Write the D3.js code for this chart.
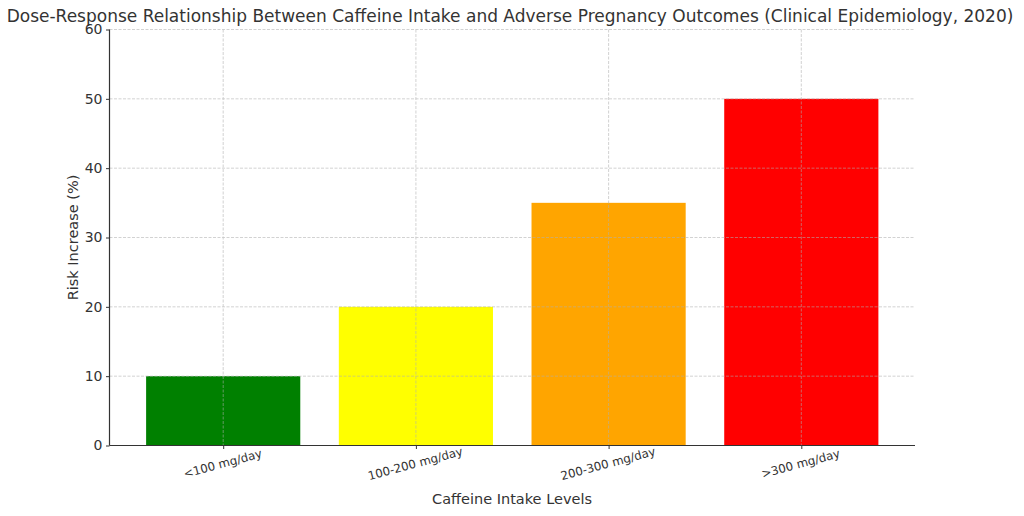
<!DOCTYPE html>
<html><head><meta charset="utf-8">
<script src="https://cdn.jsdelivr.net/npm/d3@7"></script>
<style>body{margin:0;background:#fff}text{font-family:"DejaVu Sans",sans-serif;fill:#333}</style>
</head><body><svg id="c" width="1024" height="516"></svg>
<script>
const categories = ["<100 mg/day", "100-200 mg/day", "200-300 mg/day", ">300 mg/day"];
const riskValues = [10, 20, 35, 50];
const barColors = ["green", "yellow", "orange", "red"];
const yTicks = [0, 10, 20, 30, 40, 50, 60];

const svg = d3.select("#c");
const L = 109.5, R = 915, T = 29.5, B = 445.5;
const x = d3.scaleLinear().domain([-0.59, categories.length - 1 + 0.59]).range([L, R]);
const y = d3.scaleLinear().domain([0, 60]).range([B, T]);
const unit = x(1) - x(0);

// bars
svg.append("g").selectAll("rect").data(riskValues).join("rect")
  .attr("x", (d, i) => x(i) - 0.4 * unit)
  .attr("width", 0.8 * unit)
  .attr("y", d => y(d))
  .attr("height", d => B - y(d))
  .attr("fill", (d, i) => barColors[i]);

// grid
const grid = svg.append("g").attr("stroke", "#b0b0b0").attr("stroke-width", 0.8)
  .attr("stroke-dasharray", "3,1.5").attr("opacity", 0.7);
grid.selectAll(".gy").data(yTicks).join("line")
  .attr("x1", L).attr("x2", R).attr("y1", d => y(d)).attr("y2", d => y(d));
grid.selectAll(".gx").data(categories).join("line")
  .attr("x1", (d, i) => x(i)).attr("x2", (d, i) => x(i)).attr("y1", T).attr("y2", B);

// y axis
const yAxis = d3.axisLeft(y).tickValues(yTicks).tickSize(3.5).tickPadding(3.5);
const gy = svg.append("g").attr("transform", `translate(${L},0)`).call(yAxis);
gy.select(".domain").attr("stroke", "#333").attr("stroke-width", 1.2).attr("d", `M0,${B}V${T}`);
gy.selectAll(".tick line").attr("stroke", "#333");
gy.selectAll("text").style("font-size", "14px").style("font-family", "DejaVu Sans").attr("fill", "#333");

// x axis
const xAxis = d3.axisBottom(x).tickValues(d3.range(categories.length)).tickFormat((d) => categories[d]).tickSize(3.5).tickPadding(0);
const gx = svg.append("g").attr("transform", `translate(0,${B})`).call(xAxis);
gx.select(".domain").attr("stroke", "#333").attr("stroke-width", 1.2).attr("d", `M${L},0H${R}`);
gx.selectAll(".tick line").attr("stroke", "#333");
gx.selectAll("text").style("font-size", "11.8px").style("font-family", "DejaVu Sans").attr("fill", "#333")
  .attr("text-anchor", "middle").attr("dy", null).attr("y", 0)
  .attr("transform", "translate(0,22) rotate(-15)");

// labels
svg.append("text").attr("x", 510).attr("y", 22).attr("text-anchor", "middle")
  .style("font-size", "17px").text("Dose-Response Relationship Between Caffeine Intake and Adverse Pregnancy Outcomes (Clinical Epidemiology, 2020)");
svg.append("text").attr("x", 512).attr("y", 504).attr("text-anchor", "middle")
  .style("font-size", "14.5px").text("Caffeine Intake Levels");
svg.append("text").attr("transform", `translate(78,${(T + B) / 2}) rotate(-90)`).attr("text-anchor", "middle")
  .style("font-size", "14.5px").text("Risk Increase (%)");
</script></body></html>
